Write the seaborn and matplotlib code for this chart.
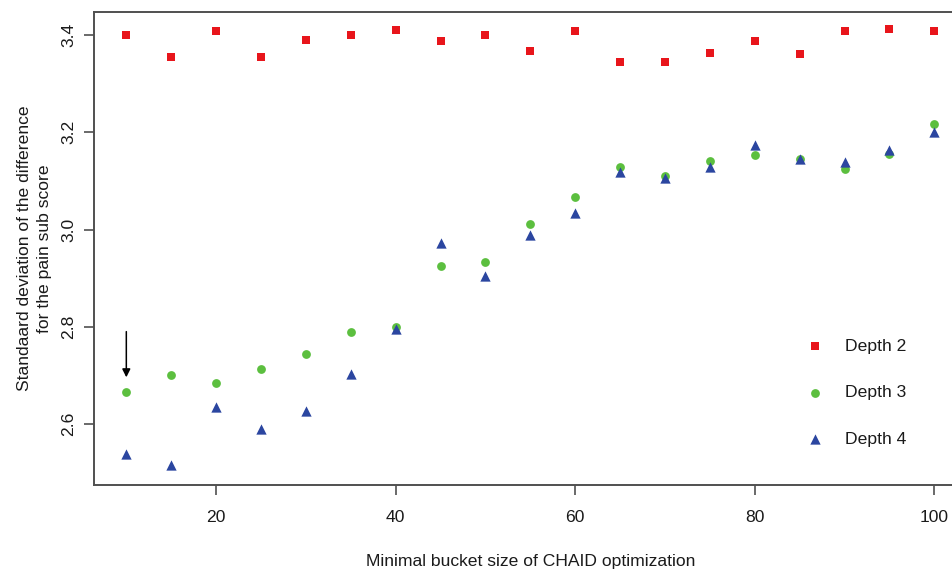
import numpy as np
import pandas as pd
import matplotlib
matplotlib.use("Agg")
import matplotlib.pyplot as plt
import seaborn as sns

# Minimal bucket size used in the CHAID runs
bucket_size = [10, 15, 20, 25, 30, 35, 40, 45, 50, 55, 60,
               65, 70, 75, 80, 85, 90, 95, 100]

# Standard deviation of the difference (pain sub score) per tree depth
depth2 = [3.401, 3.355, 3.408, 3.355, 3.390, 3.401, 3.410, 3.388, 3.400, 3.367,
          3.408, 3.344, 3.344, 3.364, 3.388, 3.362, 3.408, 3.413, 3.408]
depth3 = [2.665, 2.701, 2.685, 2.713, 2.743, 2.789, 2.800, 2.924, 2.934, 3.012,
          3.066, 3.129, 3.111, 3.140, 3.154, 3.146, 3.124, 3.155, 3.216]
depth4 = [2.538, 2.515, 2.634, 2.590, 2.627, 2.702, 2.796, 2.972, 2.905, 2.988,
          3.033, 3.119, 3.105, 3.128, 3.174, 3.144, 3.138, 3.164, 3.201]

series_labels = ["Depth 2", "Depth 3", "Depth 4"]
y_ticks = [2.6, 2.8, 3.0, 3.2, 3.4]
x_ticks = [20, 40, 60, 80, 100]

# Arrow pointing at the depth-3 result for the smallest bucket size
arrow_x = 10
arrow_from, arrow_to = 2.790, 2.696

df = pd.concat([
    pd.DataFrame({"bucket": bucket_size, "sd": vals, "depth": lab})
    for vals, lab in zip([depth2, depth3, depth4], series_labels)
], ignore_index=True)

sns.set_theme(style="white")
plt.rcParams["font.family"] = ["Liberation Sans", "DejaVu Sans"]
text_col = "#1a1a1a"
spine_col = "#505050"
fs = 12.6

fig = plt.figure(figsize=(9.53, 5.70), dpi=100)
ax = fig.add_axes([94 / 953, 85 / 570, 872.6 / 953, 473.3 / 570])

styles = {
    "Depth 2": dict(marker="s", color="#e8151b", s=40),
    "Depth 3": dict(marker="o", color="#5cbf3f", s=40),
    "Depth 4": dict(marker="^", color="#2b46a0", s=55),
}
for lab in series_labels:
    st = styles[lab]
    sns.scatterplot(data=df[df["depth"] == lab], x="bucket", y="sd",
                    marker=st["marker"], color=st["color"], s=st["s"],
                    linewidth=0, label=lab, ax=ax)

ax.set_xlim(6.4, 103.6)
ax.set_ylim(2.4745, 3.448)
ax.set_xticks(x_ticks)
ax.set_yticks(y_ticks)
ax.set_yticklabels([f"{v:.1f}" for v in y_ticks], rotation=90, va="center")

for sp in ax.spines.values():
    sp.set_visible(True)
    sp.set_color(spine_col)
    sp.set_linewidth(1.4)

ax.tick_params(axis="both", which="major", direction="out", length=7,
               width=1.2, color=spine_col, labelsize=fs, labelcolor=text_col,
               left=True, bottom=True)
ax.tick_params(axis="x", pad=11)
ax.tick_params(axis="y", pad=6)

ax.set_xlabel("Minimal bucket size of CHAID optimization", fontsize=fs,
              color=text_col)
ax.xaxis.set_label_coords(0.5, -0.146)
ax.xaxis.label.set_va("top")
ax.set_ylabel("Standaard deviation of the difference\nfor the pain sub score",
              fontsize=fs, color=text_col, linespacing=1.45)
ax.yaxis.set_label_coords(-0.048, 0.5)

ax.annotate("", xy=(arrow_x, arrow_to), xytext=(arrow_x, arrow_from),
            arrowprops=dict(arrowstyle="-|>", color="black", lw=1.1,
                            mutation_scale=12, shrinkA=0, shrinkB=0))

leg = ax.legend(loc="upper left", bbox_to_anchor=(0.806, 0.328),
                frameon=False, fontsize=fs, labelspacing=1.78,
                handletextpad=1.2, borderpad=0, handlelength=1.0)
for t in leg.get_texts():
    t.set_color(text_col)

fig.savefig("out.png", dpi=100, facecolor="white")
